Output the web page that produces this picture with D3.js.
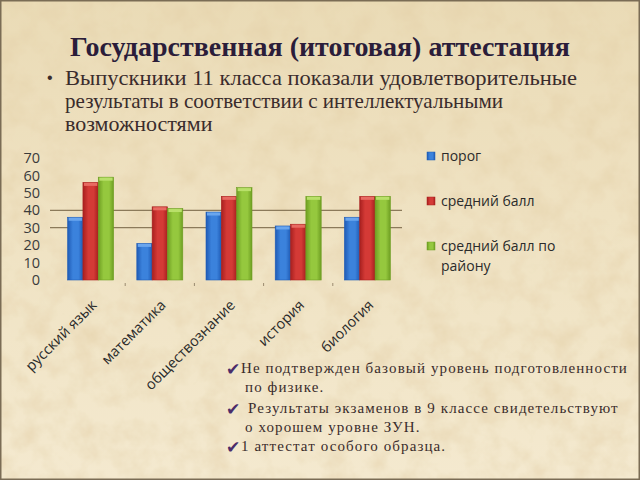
<!DOCTYPE html>
<html>
<head>
<meta charset="utf-8">
<script src="https://cdn.jsdelivr.net/npm/d3@7"></script>
<style>
  html, body { margin: 0; padding: 0; background: #ecdfbd; }
  svg { display: block; }
</style>
</head>
<body>
<svg id="slide" width="640" height="480"></svg>
<script>
const subjects = ["русский язык", "математика", "обществознание", "история", "биология"];
const seriesNames = ["порог", "средний балл", "средний балл по району"];
const threshold = [36, 21, 39, 31, 36];
const avgScore = [56, 42, 48, 32, 48];
const avgDistrict = [59, 41, 53, 48, 48];
const yTicks = [0, 10, 20, 30, 40, 50, 60, 70];
const gridValues = [30, 40];

const titleText = "Государственная (итоговая) аттестация";
const bulletLines = ["Выпускники 11 класса показали удовлетворительные",
                     "результаты в соответствии с интеллектуальными",
                     "возможностями"];
const notes = [
  {check: true,  text: "Не подтвержден базовый уровень подготовленности"},
  {check: false, text: "по физике."},
  {check: true,  text: "Результаты экзаменов в 9 классе свидетельствуют"},
  {check: false, text: "о хорошем уровне ЗУН."},
  {check: true,  text: "1 аттестат особого образца."}
];

const svg = d3.select("#slide");
const width = +svg.attr("width");
const height = +svg.attr("height");
const margin = {top: 158, right: 238, bottom: 200, left: 56};
const innerWidth = width - margin.left - margin.right;

const barColours = [
  {id: "gBlue",  dark: "#1f5bb5", mid: "#3b82dc", light: "#6aa6ee"},
  {id: "gRed",   dark: "#a8201f", mid: "#d43a36", light: "#e86a62"},
  {id: "gGreen", dark: "#6e9e22", mid: "#95c83e", light: "#b9e06a"}
];

function drawBackground() {
  const defs = svg.append("defs");
  const f = defs.append("filter").attr("id", "paper")
      .attr("x", 0).attr("y", 0).attr("width", "100%").attr("height", "100%");
  f.append("feTurbulence").attr("type", "fractalNoise")
      .attr("baseFrequency", 0.04).attr("numOctaves", 4).attr("seed", 7)
      .attr("result", "noise");
  f.append("feColorMatrix").attr("in", "noise").attr("type", "matrix")
      .attr("values", "0 0 0 0 0.78  0 0 0 0 0.64  0 0 0 0 0.40  1.2 0 0 0 -0.45")
      .attr("result", "tint");
  f.append("feComposite").attr("in", "tint").attr("in2", "SourceGraphic").attr("operator", "over");

  const lg = defs.append("linearGradient").attr("id", "bgGrad")
      .attr("x1", 0).attr("x2", 0).attr("y1", 0).attr("y2", 1);
  lg.append("stop").attr("offset", "0%").attr("stop-color", "#eadbb6");
  lg.append("stop").attr("offset", "45%").attr("stop-color", "#efe2c2");
  lg.append("stop").attr("offset", "100%").attr("stop-color", "#f4e9cf");

  barColours.forEach(c => {
    const g = defs.append("linearGradient").attr("id", c.id)
        .attr("x1", 0).attr("x2", 1).attr("y1", 0).attr("y2", 0);
    g.append("stop").attr("offset", "0%").attr("stop-color", c.dark);
    g.append("stop").attr("offset", "35%").attr("stop-color", c.mid);
    g.append("stop").attr("offset", "70%").attr("stop-color", c.mid);
    g.append("stop").attr("offset", "100%").attr("stop-color", c.dark);
  });

  svg.append("rect").attr("width", width).attr("height", height)
      .attr("fill", "url(#bgGrad)").attr("filter", "url(#paper)");
  svg.append("rect").attr("x", 0.75).attr("y", 0.75)
      .attr("width", width - 1.5).attr("height", height - 1.5)
      .attr("fill", "none").attr("stroke", "#7a6c55").attr("stroke-width", 1.5);
}

function drawTexts() {
  svg.append("text")
      .attr("x", 320).attr("y", 56)
      .attr("text-anchor", "middle")
      .attr("font-family", "'Liberation Serif', serif")
      .attr("font-weight", "bold").attr("font-size", 28)
      .attr("fill", "#2b1d3a")
      .text(titleText);

  svg.append("text")
      .attr("x", 47).attr("y", 83)
      .attr("font-family", "'Liberation Sans', sans-serif")
      .attr("font-size", 16).attr("fill", "#3a2c2c")
      .text("•");

  svg.append("g").selectAll("text")
      .data(bulletLines)
      .join("text")
      .attr("x", 65)
      .attr("y", (d, i) => 85 + i * 23)
      .attr("font-family", "'Liberation Serif', 'DejaVu Serif', serif")
      .attr("font-size", 22).attr("fill", "#3a2c2c")
      .attr("textLength", (d, i) => [512, 438, null][i])
      .attr("lengthAdjust", "spacingAndGlyphs")
      .text(d => d);

  const noteY = [373, 392, 413, 432, 451];
  const ng = svg.append("g");
  ng.selectAll("text.check")
      .data(notes.filter(d => d.check))
      .join("text")
      .attr("class", "check")
      .attr("x", 226)
      .attr("y", d => noteY[notes.indexOf(d)] + 2)
      .attr("font-family", "'DejaVu Sans', sans-serif")
      .attr("font-size", 17).attr("fill", "#4a2d6a")
      .text("✔");
  ng.selectAll("text.note")
      .data(notes)
      .join("text")
      .attr("class", "note")
      .attr("x", (d, i) => [241, 245, 248, 245, 241][i])
      .attr("y", (d, i) => noteY[i])
      .attr("font-family", "'Liberation Serif', serif")
      .attr("font-size", 15).attr("fill", "#3a2c2c")
      .attr("letter-spacing", 1.1)
      .text(d => d.text);
}

function drawChart() {
  const chart = svg.append("g")
      .attr("transform", "translate(" + margin.left + "," + margin.top + ")");

  const x = d3.scaleBand().domain(subjects).range([0, innerWidth]).paddingInner(0).paddingOuter(0);
  const innerPad = (x.bandwidth() - 46) / 2;
  const xs = d3.scaleBand().domain(seriesNames)
      .range([innerPad, x.bandwidth() - innerPad]);
  const y = d3.scaleLinear().domain([0, 70]).range([122, 0]);

  chart.selectAll("line.grid")
      .data(gridValues)
      .join("line")
      .attr("class", "grid")
      .attr("x1", -6).attr("x2", innerWidth)
      .attr("y1", d => y(d)).attr("y2", d => y(d))
      .attr("stroke", "#8b7a5a").attr("stroke-width", 1.3);

  const yAxis = chart.append("g")
      .call(d3.axisLeft(y).tickValues(yTicks).tickSize(0).tickPadding(16));
  yAxis.select(".domain").remove();
  yAxis.selectAll("text")
      .attr("font-family", "'Open Sans', 'DejaVu Sans', sans-serif")
      .attr("font-size", 14.5).attr("fill", "#3b3b3b");

  chart.selectAll("line.tick-mark")
      .data(subjects.slice(1))
      .join("line")
      .attr("class", "tick-mark")
      .attr("x1", d => x(d)).attr("x2", d => x(d))
      .attr("y1", y(0) + 3).attr("y2", y(0) + 6)
      .attr("stroke", "#9a8a70");

  const allSeries = [threshold, avgScore, avgDistrict];
  const rows = [];
  subjects.forEach((s, i) => {
    allSeries.forEach((vals, j) => rows.push({subject: s, series: seriesNames[j], idx: j, value: vals[i]}));
  });

  const bars = chart.selectAll("g.bar")
      .data(rows)
      .join("g")
      .attr("class", "bar")
      .attr("transform", d => "translate(" + (x(d.subject) + xs(d.series)) + ",0)");
  bars.append("rect")
      .attr("x", 0)
      .attr("y", d => y(d.value))
      .attr("width", xs.bandwidth())
      .attr("height", d => y(0) - y(d.value))
      .attr("fill", d => "url(#" + barColours[d.idx].id + ")")
      .attr("stroke", d => barColours[d.idx].dark)
      .attr("stroke-width", 0.6);
  bars.append("rect")
      .attr("x", 1)
      .attr("y", d => y(d.value) + 0.5)
      .attr("width", xs.bandwidth() - 2)
      .attr("height", 3)
      .attr("fill", d => barColours[d.idx].light);

  chart.selectAll("text.cat")
      .data(subjects)
      .join("text")
      .attr("class", "cat")
      .attr("transform", d => "translate(" + (x(d) + x.bandwidth() / 2 + 7) + "," + (y(0) + 26) + ") rotate(-45)")
      .attr("text-anchor", "end")
      .attr("font-family", "'Open Sans', 'DejaVu Sans', sans-serif")
      .attr("font-size", 14.5).attr("fill", "#2b2b2b")
      .text(d => d);

  const legend = svg.append("g").attr("transform", "translate(427,0)");
  const legendY = [157, 202, 247];
  legend.selectAll("rect")
      .data(seriesNames)
      .join("rect")
      .attr("x", 0).attr("y", (d, i) => legendY[i] - 5)
      .attr("width", 8).attr("height", 8)
      .attr("fill", (d, i) => "url(#" + barColours[i].id + ")")
      .attr("stroke", (d, i) => barColours[i].dark).attr("stroke-width", 0.5);
  const legendLines = [["порог"], ["средний балл"], ["средний балл по", "району"]];
  legend.selectAll("text")
      .data(legendLines)
      .join("text")
      .attr("x", 14)
      .attr("y", (d, i) => legendY[i] + 4)
      .attr("font-family", "'Open Sans', 'DejaVu Sans', sans-serif")
      .attr("font-size", 14).attr("fill", "#2b2b2b")
      .selectAll("tspan")
      .data(d => d)
      .join("tspan")
      .attr("x", 14)
      .attr("dy", (d, i) => i === 0 ? 0 : 20)
      .text(d => d);
}

drawBackground();
drawTexts();
drawChart();
</script>
</body>
</html>
